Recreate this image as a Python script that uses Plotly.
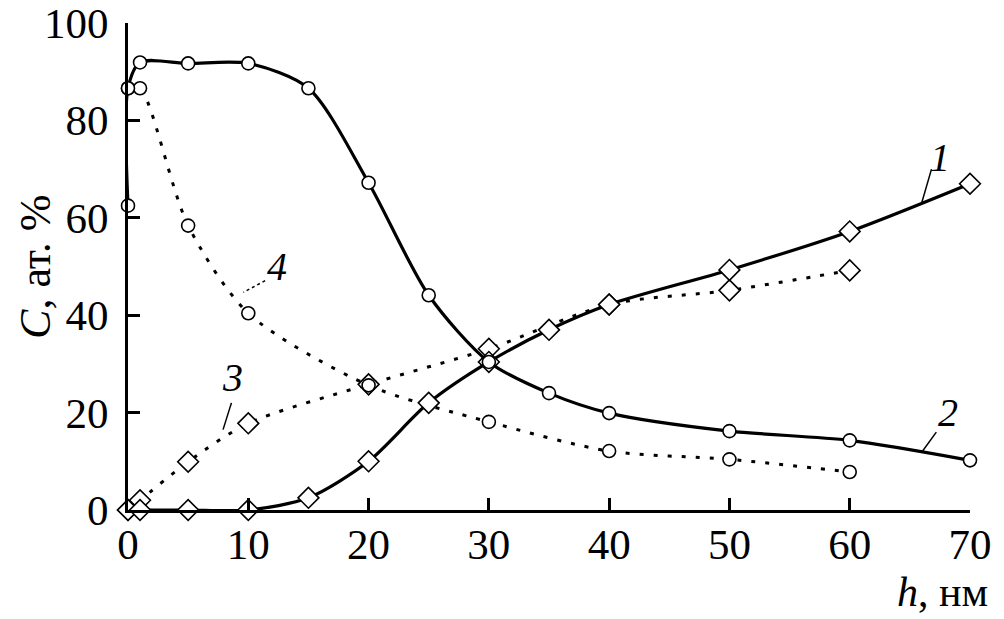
import plotly.graph_objects as go

# Curve 1: solid, diamonds (rising)
h1 = [0, 1, 5, 10, 15, 20, 25, 30, 35, 40, 50, 60, 70]
c1 = [0, 0, 0, 0, 2.5, 10, 22, 30.4, 37, 42.2, 49.3, 57.2, 67]
# Curve 2: solid, circles (falling)
h2 = [0, 0, 1, 5, 10, 15, 20, 25, 30, 35, 40, 50, 60, 70]
c2 = [62.5, 86.6, 91.9, 91.7, 91.7, 86.6, 67.2, 44.1, 30.4, 24.0, 19.9, 16.2, 14.3, 10.2]
# Curve 3: dotted, diamonds
h3 = [0, 1, 5, 10, 20, 30, 40, 50, 60]
c3 = [0, 2, 9.9, 17.8, 25.8, 33.1, 42.2, 45.1, 49.2]
# Curve 4: dotted, circles
h4 = [0, 1, 5, 10, 20, 30, 40, 50, 60]
c4 = [86.6, 86.6, 58.4, 40.4, 25.6, 18.1, 12.1, 10.4, 7.8]

x_ticks = [0, 10, 20, 30, 40, 50, 60, 70]
y_ticks = [0, 20, 40, 60, 80, 100]

curve_labels = ["1", "2", "3", "4"]
label_pos_x = [67.5, 68.2, 8.7, 12.4]
label_pos_y = [72.3, 20.1, 27.3, 49.9]

FONT = "Liberation Serif"

fig = go.Figure()

def add_curve(x, y, dash, symbol, size, width):
    fig.add_trace(go.Scatter(
        x=x, y=y, mode="lines",
        line=dict(color="black", width=width, dash=dash, shape="spline", smoothing=0.8),
        cliponaxis=False, hoverinfo="skip", showlegend=False))
    fig.add_trace(go.Scatter(
        x=x, y=y, mode="markers",
        marker=dict(symbol=symbol, size=size, color="white",
                    line=dict(color="black", width=1.6)),
        cliponaxis=False, hoverinfo="skip", showlegend=False))

add_curve(h3, c3, "4px,10px", "diamond", 16, 3)
add_curve(h4, c4, "4px,10px", "circle", 13, 3)
add_curve(h1, c1, "solid", "diamond", 16, 3.2)
add_curve(h2, c2, "solid", "circle", 13, 3.2)

# Leader lines for curve labels
leaders = [
    ((66.8, 70.0), (66.0, 63.2), "solid"),
    ((67.2, 16.0), (66.0, 11.9), "solid"),
    ((8.6, 22.0), (7.9, 16.5), "solid"),
    ((11.4, 47.1), (9.6, 44.7), "dot"),
]
for (x0, y0), (x1, y1), d in leaders:
    fig.add_shape(type="line", x0=x0, y0=y0, x1=x1, y1=y1, xref="x", yref="y",
                  line=dict(color="black", width=1.5, dash=d))

for t, lx, ly in zip(curve_labels, label_pos_x, label_pos_y):
    fig.add_annotation(x=lx, y=ly, xref="x", yref="y", text="<i>" + t + "</i>",
                       showarrow=False, font=dict(family=FONT, size=40, color="black"))

# Axis titles
fig.add_annotation(x=1.024, y=-0.168, xref="paper", yref="paper",
                   text="<i>h</i>, нм", showarrow=False, xanchor="right", yanchor="middle",
                   font=dict(family=FONT, size=42, color="black"))
fig.add_annotation(x=-0.110, y=0.5, xref="paper", yref="paper",
                   text="<i>C</i>, ат. %", showarrow=False, textangle=-90,
                   xanchor="center", yanchor="middle",
                   font=dict(family=FONT, size=44, color="black"))

axis_common = dict(showline=True, linecolor="black", linewidth=3,
                   ticks="inside", ticklen=12, tickwidth=3, tickcolor="black",
                   showgrid=False, zeroline=False, automargin=False,
                   ticklabeloverflow="allow",
                   tickfont=dict(family=FONT, size=43, color="black"))

fig.update_xaxes(range=[0, 70], tickvals=x_ticks, ticktext=[str(v) for v in x_ticks],
                 ticklabelstandoff=-6, **axis_common)
fig.update_yaxes(range=[0, 100], tickvals=y_ticks, ticktext=[str(v) for v in y_ticks],
                 ticklabelstandoff=8, **axis_common)

fig.update_layout(width=1004, height=619, plot_bgcolor="white", paper_bgcolor="white",
                  margin=dict(l=128, r=34, t=23, b=109), showlegend=False)

fig.write_html("out.html", config={"displayModeBar": False},
               post_script="document.body.style.margin='0';")
